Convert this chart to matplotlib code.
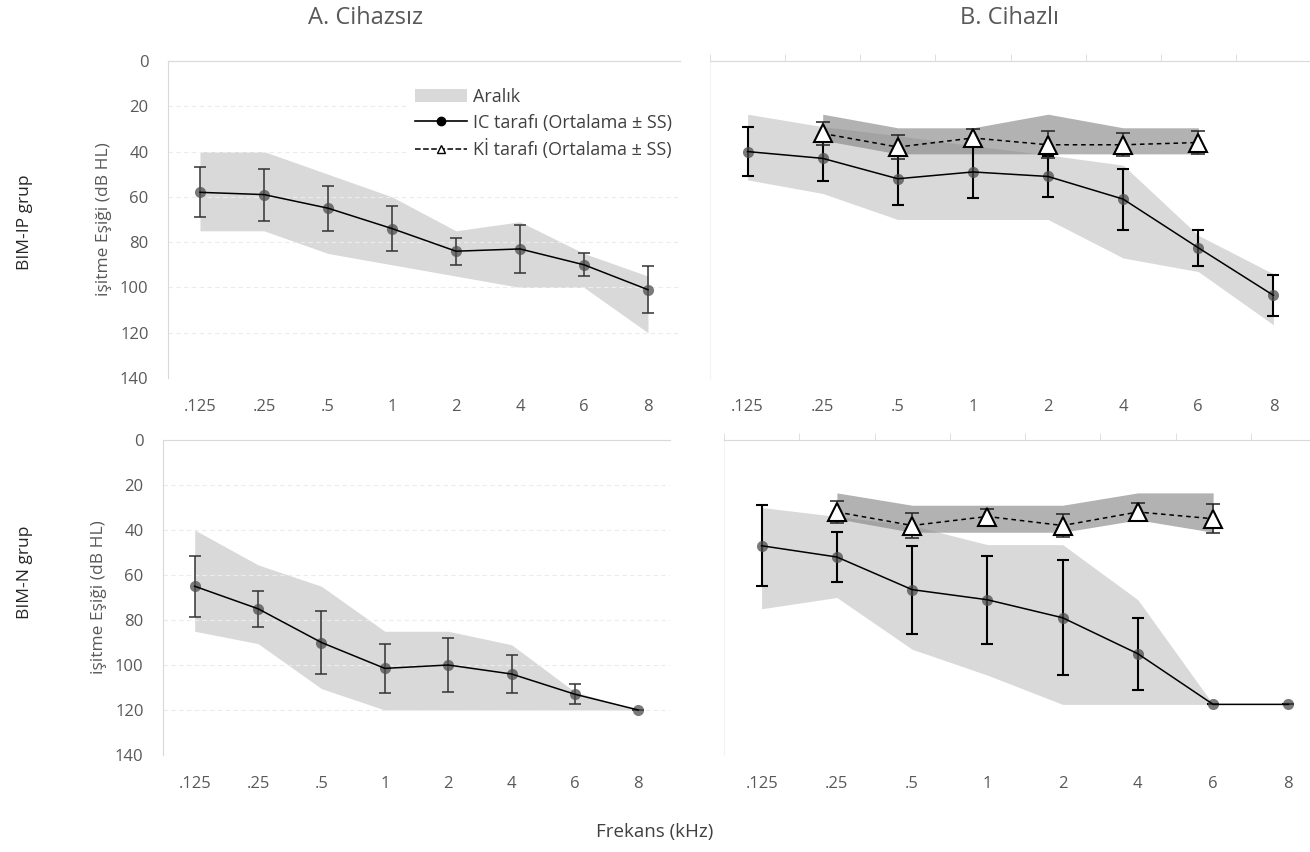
import numpy as np
import matplotlib
matplotlib.use('Agg')
import matplotlib.pyplot as plt
from matplotlib.patches import Patch
from matplotlib.lines import Line2D

plt.rcParams['font.family'] = ['Open Sans', 'DejaVu Sans']

freqs = ['.125', '.25', '.5', '1', '2', '4', '6', '8']
yticks = [0, 20, 40, 60, 80, 100, 120, 140]

# A. Cihazsiz - BIM-IP
ip_a_mean = [58, 59, 65, 74, 84, 83, 90, 101]
ip_a_sd = [11, 11.5, 10, 10, 6, 10.5, 5, 10.5]
ip_a_min = [40, 40, 50, 60, 75, 71, 85, 95]
ip_a_max = [75, 75, 85, 90, 95, 100, 100, 120]

# B. Cihazli - BIM-IP
ip_b_mean = [40, 43, 52, 49, 51, 61, 82.5, 103.5]
ip_b_sd = [11, 10, 11.5, 11.5, 9, 13.5, 8, 9]
ip_b_min = [23.5, 29, 33, 37.5, 41.5, 46, 77, 94]
ip_b_max = [52.5, 58.5, 70, 70, 70, 87, 93, 116.5]
ip_ki_mean = [32, 38, 34, 37, 37, 36]
ip_ki_sd = [5, 5.5, 4, 6, 5, 5]
ip_ki_min = [23.5, 29.5, 29.5, 23.5, 29.5, 29.5]
ip_ki_max = [35, 41, 41, 41, 41, 41]

# A. Cihazsiz - BIM-N
n_a_mean = [65, 75, 90, 101.5, 100, 104, 113, 120]
n_a_sd = [13.5, 8, 14, 11, 12, 8.5, 4.5, 0]
n_a_min = [40, 55.5, 65, 85, 85, 91, 112, 120]
n_a_max = [85, 90.5, 110.5, 120, 120, 120, 120, 120]

# B. Cihazli - BIM-N
n_b_mean = [47, 52, 66.5, 71, 79, 95, 117.5, 117.5]
n_b_sd = [18, 11, 19.5, 19.5, 25.5, 16, 0, 0]
n_b_min = [30, 34, 38, 46.5, 46.5, 71, 117.5]
n_b_max = [75, 70, 93, 104.5, 117.5, 117.5, 117.5]
n_ki_mean = [32, 38, 34, 38, 32, 35]
n_ki_sd = [5, 5.5, 3.5, 5, 4, 6.5]
n_ki_min = [23.5, 29, 29, 29, 23.5, 23.5]
n_ki_max = [35, 41, 41, 41, 35.5, 41]

W, H = 1310, 852
fig = plt.figure(figsize=(W / 100, H / 100), dpi=100)


def add_ax(x0, y0, x1, y1):
    return fig.add_axes([x0 / W, 1 - y1 / H, (x1 - x0) / W, (y1 - y0) / H])


def draw_panel(ax, mean, sd, bmin, bmax, ki=None, left=True, ebcol='#333333', eblw=1.1):
    x = np.arange(len(freqs))
    xb = x[:len(bmin)]
    ax.fill_between(xb, bmin, bmax, color='#d9d9d9', lw=0, zorder=1)
    ax.errorbar(x, mean, yerr=sd, fmt='none', ecolor=ebcol, elinewidth=eblw,
                capsize=4, capthick=eblw, zorder=3)
    ax.plot(x, mean, 'o', color='#4d4d4d', alpha=0.75, ms=8, mec='none', zorder=4)
    ax.plot(x, mean, '-', color='black', lw=1.1, zorder=5)
    if ki is not None:
        kmean, ksd, kmin, kmax = ki
        xk = x[1:1 + len(kmean)]
        ax.fill_between(xk, kmin, kmax, color='#7f7f7f', alpha=0.6, lw=0, zorder=2)
        ax.errorbar(xk, kmean, yerr=ksd, fmt='none', ecolor='#222222', elinewidth=1.1,
                    capsize=5, capthick=1.1, zorder=6)
        ax.plot(xk, kmean, '--', color='black', lw=1.1, dashes=(3, 2.5), zorder=6)
        ax.plot(xk, kmean, '^', ms=13, mfc='white', mec='black', mew=1.5, zorder=7)

    ax.set_xlim(-0.5, 7.5)
    ax.set_ylim(140, 0)
    ax.set_xticks(x)
    ax.set_xticklabels(freqs, fontsize=12, color='#595959')
    ax.tick_params(axis='x', which='major', length=0, pad=15)
    ax.set_yticks(yticks)
    for s in ['right', 'bottom']:
        ax.spines[s].set_visible(False)
    ax.spines['top'].set_color('#d9d9d9')
    if left:
        ax.spines['left'].set_color('#d9d9d9')
        ax.set_yticklabels([str(v) for v in yticks], fontsize=12, color='#595959')
        ax.tick_params(axis='y', length=0, pad=14)
        ax.grid(axis='y', color='#ececec', lw=0.8, ls=(0, (4, 3)), zorder=0)
        ax.set_ylabel('işitme Eşiği (dB HL)', fontsize=12.5, color='#595959', labelpad=6)
    else:
        ax.spines['left'].set_color('#f3f3f3')
        ax.tick_params(axis='y', length=0, labelleft=False)
        ax.set_xticks(np.arange(-0.5, 8, 1), minor=True)
        ax.tick_params(axis='x', which='minor', top=True, bottom=False, length=5,
                       color='#d9d9d9', direction='out')


ax1 = add_ax(168, 61, 680, 378)
draw_panel(ax1, ip_a_mean, ip_a_sd, ip_a_min, ip_a_max)

ax2 = add_ax(710, 61, 1311, 378)
draw_panel(ax2, ip_b_mean, ip_b_sd, ip_b_min, ip_b_max,
           ki=(ip_ki_mean, ip_ki_sd, ip_ki_min, ip_ki_max), left=False,
           ebcol='black', eblw=1.5)

ax3 = add_ax(163, 440, 670, 755)
draw_panel(ax3, n_a_mean, n_a_sd, n_a_min, n_a_max)

ax4 = add_ax(724, 440, 1326, 755)
draw_panel(ax4, n_b_mean, n_b_sd, n_b_min, n_b_max,
           ki=(n_ki_mean, n_ki_sd, n_ki_min, n_ki_max), left=False,
           ebcol='black', eblw=1.5)

handles = [
    Patch(facecolor='#d9d9d9', edgecolor='none'),
    Line2D([], [], color='black', lw=1.2, marker='o', ms=6),
    Line2D([], [], color='black', lw=1.1, ls='--', marker='^', ms=6, mfc='white', mec='black'),
]
labels = ['Aralık', 'IC tarafı (Ortalama ± SS)', 'Kİ tarafı (Ortalama ± SS)']
leg = ax1.legend(handles, labels, loc='upper left', bbox_to_anchor=(0.455, 0.96),
                 fontsize=13, frameon=True, facecolor='white', edgecolor='none',
                 framealpha=1, handlelength=2.85, labelspacing=0.42, handletextpad=0.35,
                 borderpad=0.3)
for t in leg.get_texts():
    t.set_color('#404040')

fig.text(365 / W, 1 - 18 / H, 'A. Cihazsız', fontsize=17, color='#595959',
         ha='center', va='center')
fig.text(1010 / W, 1 - 18 / H, 'B. Cihazlı', fontsize=17, color='#595959',
         ha='center', va='center')
fig.text(25 / W, 1 - 222 / H, 'BIM-IP grup', fontsize=12.5, color='#262626',
         rotation=90, ha='center', va='center')
fig.text(25 / W, 1 - 572 / H, 'BIM-N grup', fontsize=12.5, color='#262626',
         rotation=90, ha='center', va='center')
fig.text(655 / W, 1 - 832 / H, 'Frekans (kHz)', fontsize=13.5, color='#404040',
         ha='center', va='center')

fig.savefig('out.png', dpi=100)
